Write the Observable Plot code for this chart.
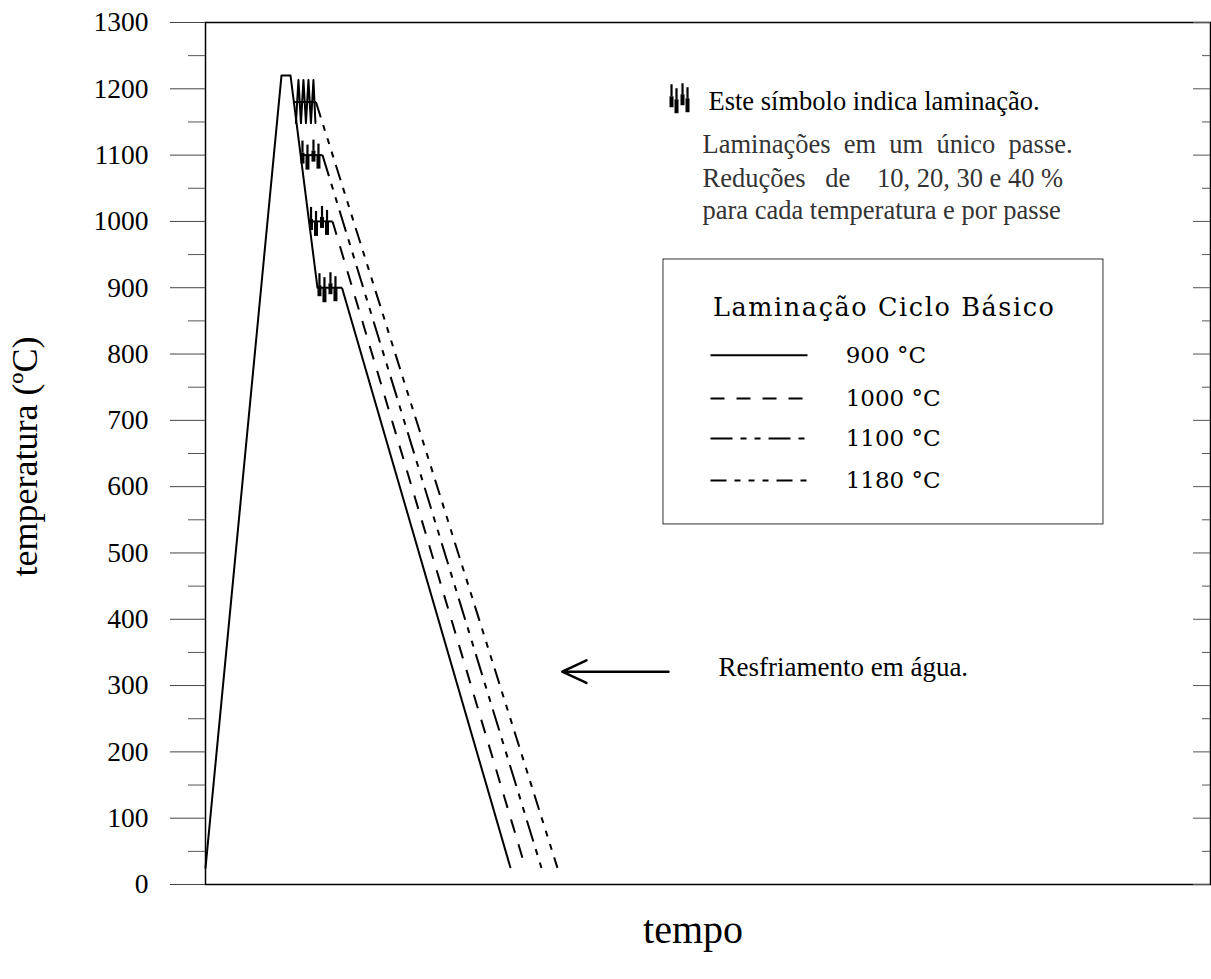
<!DOCTYPE html>
<html>
<head>
<meta charset="utf-8">
<script src="https://cdn.jsdelivr.net/npm/d3@7"></script>
<script src="https://cdn.jsdelivr.net/npm/@observablehq/plot@0.6"></script>
<style>
  html, body { margin: 0; padding: 0; background: #fff; }
  #chart svg { display: block; }
</style>
</head>
<body>
<div id="chart"></div>
<script>
// ---------------- data ----------------
const yTicks = d3.range(0, 1301, 100);
const yMinorTicks = d3.range(50, 1300, 100);

// heating + soaking + fall to the hold (900 °C path, solid)
const cycleTime = [0, 7.56, 8.46, 11.14];
const cycleTemp = [25, 1220, 1220, 900];

const seriesLabels = ["900 °C", "1000 °C", "1100 °C", "1180 °C"];
const holdTemp  = [900, 1000, 1100, 1180];
const holdStart = [11.14, 10.30, 9.45, 8.80];
const holdEnd   = [13.58, 12.64, 11.64, 10.99];
const quenchEnd = [30.35, 31.84, 33.43, 35.02];
const quenchTemp = 25;

const legendTitle = "Laminação Ciclo Básico";
const symbolNote = "Este símbolo indica laminação.";
const noteLines = [
  "Laminações\u00a0 em\u00a0 um\u00a0 único\u00a0 passe.",
  "Reduções\u00a0\u00a0 de\u00a0\u00a0\u00a0 10, 20, 30 e 40 %",
  "para cada temperatura e por passe"
];
const quenchNote = "Resfriamento em água.";
const xLabel = "tempo";
const yLabel = "temperatura (ºC)";

// ---------------- styles / layout ----------------
const W = 1211, H = 979, mL = 205, mR = 1, mT = 22, mB = 95;
const xDom = [0, 100], yDom = [0, 1300];
const xPx = (W - mL - mR) / (xDom[1] - xDom[0]);
const yPx = (H - mT - mB) / (yDom[1] - yDom[0]);
const ux = p => p / xPx;   // px -> x units
const uy = p => p / yPx;   // px -> temperature units
const dashes = [null, "14,12", "22,8,6,8,6,8", "16,8,6,8,6,8,6,8"];
const serif = "'Liberation Serif', 'Times New Roman', serif";
const wideSerif = "'DejaVu Serif', serif";

// lamination glyph template (px offsets: dx, top, mid, bottom; y down)
const glyphBars = [
  {dx: 2,  t: -14, m: -2, b: 9},
  {dx: 7,  t: -10, m: 1,  b: 15},
  {dx: 13, t: -15, m: -4, b: 7},
  {dx: 18, t: -11, m: 0,  b: 14}
];
const zigTemplate = [[2,21],[4.5,-22],[7,21],[9.5,-22],[12,21],[14.5,-22],[17,21],[19.5,-22],[21.5,21]];

// glyph anchors: the three lower holds + the note symbol
const glyphAnchors = [0, 1, 2].map(i => ({x: holdStart[i], T: holdTemp[i]}));
glyphAnchors.push({x: 46.17, T: 1185});

const barsThin = [], barsThick = [];
for (const a of glyphAnchors) for (const g of glyphBars) {
  const x = a.x + ux(g.dx);
  barsThin.push({x, y1: a.T - uy(g.t), y2: a.T - uy(g.m)});
  barsThick.push({x, y1: a.T - uy(g.m), y2: a.T - uy(g.b)});
}
const zig = zigTemplate.map(([dx, dy]) => ({x: holdStart[3] + ux(dx), y: holdTemp[3] - uy(dy)}));

// legend box (data coords)
const box = {x1: 45.57, x2: 89.35, y1: 543, y2: 942.6};
const legendRowT = [798, 733, 672.6, 609.3];
const legendLineX = [50.25, 59.9];
const legendTextX = 63.7;

const marks = [
  Plot.frame({stroke: "#000", strokeWidth: 1.5}),
  Plot.axisY(yTicks, {anchor: "left", tickSize: 35, tickPadding: 22, tickFormat: d => String(d),
    fontSize: 27.5, stroke: "#444", label: null}),
  Plot.axisY(yMinorTicks, {anchor: "left", tickSize: 17, tickFormat: () => "", stroke: "#555", label: null}),
  Plot.ruleY(yTicks, {x1: () => xDom[1] - ux(17), x2: () => xDom[1], stroke: "#555"}),
  Plot.ruleY(yMinorTicks, {x1: () => xDom[1] - ux(8), x2: () => xDom[1], stroke: "#555"}),

  // solid 900 °C path
  Plot.line(cycleTime.map((t, i) => i), {x: i => cycleTime[i], y: i => cycleTemp[i], stroke: "#000", strokeWidth: 2}),
  // holds
  Plot.link([0, 1, 2, 3], {x1: i => holdStart[i], x2: i => holdEnd[i], y1: i => holdTemp[i], y2: i => holdTemp[i],
    stroke: "#000", strokeWidth: 2}),
  // quenches
  ...[0, 1, 2, 3].map(i => Plot.link([i], {x1: j => holdEnd[j], y1: j => holdTemp[j], x2: j => quenchEnd[j], y2: () => quenchTemp,
    stroke: "#000", strokeWidth: 2, strokeDasharray: dashes[i]})),

  // lamination glyphs
  Plot.ruleX(barsThin, {x: "x", y1: "y1", y2: "y2", stroke: "#000", strokeWidth: 2.2}),
  Plot.ruleX(barsThick, {x: "x", y1: "y1", y2: "y2", stroke: "#000", strokeWidth: 4}),
  Plot.line(zig, {x: "x", y: "y", stroke: "#000", strokeWidth: 2}),

  // notes
  Plot.text([symbolNote], {x: () => 50.05, y: () => 1181, text: d => d, textAnchor: "start", fontSize: 26.5, fontFamily: serif, fill: "#000"}),
  Plot.text(noteLines, {x: () => 49.45, y: (d, i) => [1116, 1065, 1016][i], text: d => d, textAnchor: "start", fontSize: 26.5, fontFamily: serif, fill: "#333"}),

  // legend box
  Plot.rect([box], {x1: "x1", x2: "x2", y1: "y1", y2: "y2", fill: "none", stroke: "#333", strokeWidth: 1}),
  Plot.text([legendTitle], {x: () => (box.x1 + box.x2) / 2, y: () => 870, text: d => d, fontSize: 25.5, fontFamily: wideSerif, fill: "#000"}),
  ...[0, 1, 2, 3].map(i => Plot.link([i], {x1: () => legendLineX[0], x2: () => legendLineX[1], y1: j => legendRowT[j], y2: j => legendRowT[j],
    stroke: "#000", strokeWidth: 2, strokeDasharray: dashes[i]})),
  Plot.text(seriesLabels, {x: () => legendTextX, y: (d, i) => legendRowT[i], text: d => d, textAnchor: "start", fontSize: 23, fontFamily: wideSerif, fill: "#000"}),

  // quench arrow
  Plot.arrow([0], {x1: () => 46.07, y1: () => 321, x2: () => 35.5, y2: () => 321, stroke: "#000", strokeWidth: 2.5, headLength: 16, headAngle: 50}),
  Plot.text([quenchNote], {x: () => 51.04, y: () => 327, text: d => d, textAnchor: "start", fontSize: 27, fontFamily: serif, fill: "#000"}),

  // axis labels
  Plot.text([yLabel], {frameAnchor: "left", dx: -180, dy: 3, rotate: -90, textAnchor: "middle", text: d => d, fontSize: 36, fontFamily: serif, fill: "#000"}),
  Plot.text([xLabel], {frameAnchor: "bottom", textAnchor: "middle", dx: -15, dy: 58, text: d => d, fontSize: 40, fontFamily: serif, fill: "#000"})
];

const chart = Plot.plot({
  width: W, height: H,
  marginLeft: mL, marginRight: mR, marginTop: mT, marginBottom: mB,
  x: {domain: xDom, axis: null},
  y: {domain: yDom, axis: null},
  style: {fontFamily: serif, fontSize: "26px", color: "#000", background: "#fff", overflow: "visible"},
  marks
});

// stretch the legend title to the reference's width
d3.select(chart).selectAll("text").filter(function () { return this.textContent === legendTitle; })
  .attr("textLength", 341).attr("lengthAdjust", "spacing");

document.getElementById("chart").appendChild(chart);
</script>
</body>
</html>
